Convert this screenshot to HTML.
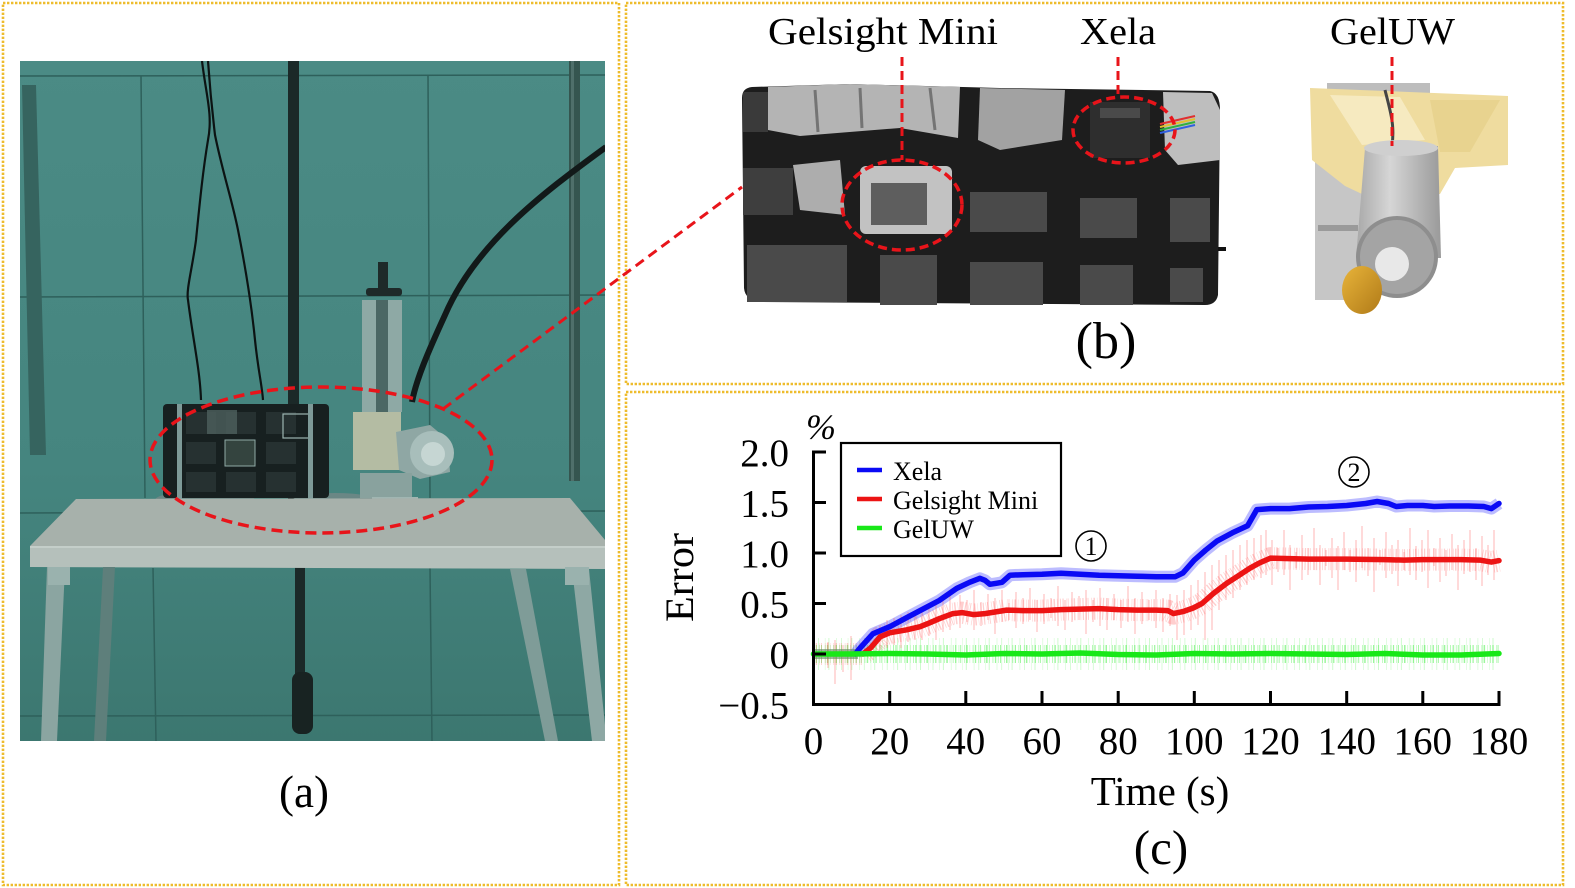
<!DOCTYPE html>
<html><head><meta charset="utf-8"><style>
html,body{margin:0;padding:0;background:#fff;}
svg{display:block;}
text{font-family:"Liberation Serif","Times New Roman",serif;fill:#000;}
</style></head><body>
<svg width="1575" height="888" viewBox="0 0 1575 888" xmlns="http://www.w3.org/2000/svg" font-family="Liberation Serif, Times New Roman, serif">
<defs>
<linearGradient id="wallg" x1="0" y1="0" x2="0" y2="1">
<stop offset="0" stop-color="#4b8b85"/><stop offset="0.6" stop-color="#45857f"/><stop offset="1" stop-color="#3c7770"/>
</linearGradient>
<linearGradient id="cylg" x1="0" y1="0" x2="1" y2="0">
<stop offset="0" stop-color="#a8a8a8"/><stop offset="0.4" stop-color="#d6d6d6"/><stop offset="1" stop-color="#9a9a9a"/>
</linearGradient>
<linearGradient id="goldg" x1="0" y1="0" x2="1" y2="1">
<stop offset="0" stop-color="#e8b43a"/><stop offset="1" stop-color="#b07a18"/>
</linearGradient>
<clipPath id="clipA"><rect x="20" y="61" width="585" height="680"/></clipPath>
</defs>

<!-- panel borders -->
<g fill="none" stroke="#eebc2c" stroke-width="2.6" stroke-dasharray="2.4 1.6">
<rect x="3" y="3" width="616" height="882"/>
<rect x="626" y="3" width="937" height="381"/>
<rect x="626" y="392" width="937" height="493"/>
</g>

<!-- ===== Photo (a) ===== -->
<g clip-path="url(#clipA)">
<rect x="20" y="61" width="585" height="680" fill="url(#wallg)"/>
<g stroke="#2e605b" stroke-width="1.5" fill="none">
<line x1="20" y1="76" x2="605" y2="75"/>
<line x1="141" y1="76" x2="145" y2="498"/>
<line x1="428" y1="75" x2="430" y2="498"/>
<line x1="20" y1="297" x2="605" y2="295"/>
<line x1="20" y1="513" x2="605" y2="511"/>
<line x1="153" y1="568" x2="156" y2="741"/>
<line x1="430" y1="568" x2="432" y2="741"/>
<line x1="20" y1="716" x2="605" y2="715"/>
</g>
<polygon points="22,85 36,85 46,455 30,455" fill="#36645f"/>
<rect x="569" y="61" width="11" height="420" fill="#35554f"/>
<rect x="571" y="61" width="3" height="420" fill="#4f6f6a"/>
<rect x="288" y="61" width="11" height="440" fill="#1b2928"/>
<rect x="295" y="565" width="10" height="130" fill="#1b2928"/>
<rect x="292" y="672" width="21" height="62" rx="8" fill="#182322"/>
<path d="M202,61 C206,95 213,115 208,140 C203,170 200,200 196,240 C192,270 186,290 188,300 C193,340 200,370 201,400" stroke="#0c1313" stroke-width="2.2" fill="none"/>
<path d="M208,61 C210,90 212,110 215,135 C222,170 232,200 238,230 C246,270 252,310 255,340 C258,370 262,385 263,400" stroke="#0c1313" stroke-width="2.2" fill="none"/>
<path d="M606,147 C540,195 475,245 445,315 C428,352 416,380 412,402" stroke="#121919" stroke-width="6" fill="none"/>
<rect x="362" y="300" width="40" height="112" fill="#8ea9a5"/>
<rect x="376" y="300" width="12" height="112" fill="#4b6764"/>
<rect x="378" y="262" width="10" height="32" fill="#1e2a29"/>
<rect x="366" y="288" width="36" height="8" rx="3" fill="#1e2a29"/>
<ellipse cx="205" cy="500" rx="50" ry="9" fill="#6a8785"/>
<ellipse cx="335" cy="502" rx="45" ry="9" fill="#6a8785"/>
<rect x="163" y="404" width="166" height="94" rx="4" fill="#172020"/>
<g fill="#263131">
<rect x="186" y="412" width="30" height="22"/><rect x="226" y="412" width="30" height="22"/><rect x="266" y="412" width="30" height="22"/>
<rect x="186" y="442" width="30" height="22"/><rect x="266" y="442" width="30" height="22"/>
<rect x="186" y="472" width="30" height="20"/><rect x="226" y="472" width="30" height="20"/><rect x="266" y="472" width="30" height="20"/>
</g>
<rect x="207" y="410" width="30" height="24" fill="#4d605e" opacity="0.8"/>
<rect x="225" y="440" width="30" height="26" fill="#34443f" stroke="#8faaa6" stroke-width="1"/>
<rect x="283" y="414" width="28" height="24" fill="none" stroke="#9cb4b0" stroke-width="1.2"/>
<rect x="177" y="404" width="5" height="100" fill="#7e9a98"/>
<rect x="308" y="404" width="5" height="100" fill="#7e9a98"/>
<rect x="353" y="412" width="48" height="58" fill="#b4bca3"/>
<polygon points="396,432 430,425 448,440 450,472 420,479 399,470" fill="#8fa7a4"/>
<circle cx="432" cy="453" r="22" fill="#a8bebb"/>
<circle cx="433" cy="454" r="12" fill="#c6d6d3"/>
<rect x="360" y="473" width="52" height="25" fill="#89a29e"/>
<rect x="372" y="497" width="46" height="26" fill="#a0b6b2"/>
<circle cx="401" cy="512" r="10" fill="#9c8a3c"/>
<polygon points="30,546 76,499 570,498 605,540 605,548" fill="#a7b1ab"/>
<polygon points="30,546 605,546 605,569 30,567" fill="#b5c0bb"/>
<line x1="30" y1="547" x2="605" y2="547" stroke="#c9d2ce" stroke-width="1.5"/>
<polygon points="47,567 65,567 57,741 41,741" fill="#8ba5a1"/>
<polygon points="103,567 115,567 106,741 94,741" fill="#5e7f7b"/>
<polygon points="510,569 526,569 558,741 545,741" fill="#7f9c98"/>
<polygon points="572,569 589,569 605,725 605,741 592,741" fill="#8ea8a4"/>
<rect x="48" y="567" width="22" height="18" fill="#9ab2ae"/>
<rect x="565" y="567" width="24" height="18" fill="#9ab2ae"/>
</g>
<ellipse cx="321" cy="460" rx="171" ry="73" fill="none" stroke="#e8141a" stroke-width="3.5" stroke-dasharray="11 6"/>
<line x1="443" y1="409" x2="742" y2="187" stroke="#e8141a" stroke-width="3" stroke-dasharray="10 6"/>
<text x="304" y="807" font-size="45" text-anchor="middle">(a)</text>

<!-- ===== Photo (b) ===== -->
<path d="M742,98 Q742,88 752,87 L850,84 L1000,88 L1210,91 Q1220,93 1220,110 L1218,295 Q1216,305 1205,305 L760,302 Q745,300 744,288 Z" fill="#1d1d1d"/>
<rect x="743" y="92" width="25" height="40" fill="#3a3a3a"/>
<polygon points="768,87 850,84 960,87 958,138 900,128 800,136 768,130" fill="#b4b4b4"/>
<g stroke="#5a5a5a" stroke-width="3" opacity="0.7">
<line x1="815" y1="90" x2="818" y2="132"/><line x1="860" y1="88" x2="862" y2="128"/><line x1="930" y1="88" x2="935" y2="130"/>
</g>
<polygon points="980,88 1065,90 1062,140 1000,150 978,140" fill="#a2a2a2"/>
<polygon points="1163,92 1212,93 1220,110 1220,160 1178,165 1165,150" fill="#bebebe"/>
<polygon points="793,165 840,160 845,215 800,210" fill="#adadad"/>
<rect x="743" y="168" width="50" height="47" fill="#3e3e3e"/>
<rect x="860" y="166" width="92" height="68" rx="6" fill="#c2c2c2"/>
<rect x="871" y="183" width="56" height="42" fill="#5e5e5e"/>
<g fill="#4a4a4a">
<rect x="970" y="192" width="77" height="40"/><rect x="1080" y="198" width="57" height="40"/><rect x="1170" y="198" width="40" height="44"/>
<rect x="747" y="245" width="100" height="57"/><rect x="880" y="255" width="57" height="50"/><rect x="970" y="262" width="73" height="43"/>
<rect x="1080" y="265" width="53" height="40"/><rect x="1170" y="268" width="33" height="34"/>
</g>
<rect x="1090" y="102" width="60" height="56" fill="#2e2e2e"/>
<rect x="1100" y="108" width="40" height="10" fill="#4a4a4a"/>
<g stroke-width="2">
<line x1="1160" y1="124" x2="1195" y2="116" stroke="#e03030"/>
<line x1="1160" y1="127" x2="1195" y2="119" stroke="#e0c030"/>
<line x1="1160" y1="130" x2="1195" y2="122" stroke="#30b040"/>
<line x1="1160" y1="133" x2="1195" y2="125" stroke="#3060e0"/>
</g>
<rect x="1218" y="247" width="8" height="4" fill="#111"/>
<!-- GelUW -->
<rect x="1327" y="83" width="103" height="14" fill="#bdbdbd"/>
<rect x="1315" y="160" width="47" height="140" fill="#c6c6c6"/>
<rect x="1318" y="225" width="40" height="6" fill="#9a9a9a"/>
<polygon points="1310,88 1508,96 1508,165 1455,168 1440,194 1362,194 1345,186 1312,160" fill="#efdc9f"/>
<polygon points="1330,95 1400,97 1425,140 1362,145" fill="#f6eac0"/>
<polygon points="1430,100 1500,100 1470,152 1440,152" fill="#e8d38f"/>
<path d="M1385,90 C1390,110 1395,125 1392,145" stroke="#444" stroke-width="3" fill="none"/>
<polygon points="1365,148 1438,146 1441,258 1356,258" fill="url(#cylg)"/>
<ellipse cx="1401" cy="148" rx="37" ry="8" fill="#cfcfcf"/>
<circle cx="1397" cy="257" r="41" fill="#8e8e8e"/>
<circle cx="1397" cy="257" r="37" fill="#a4a4a4"/>
<circle cx="1392" cy="264" r="17" fill="#e8e8e8"/>
<ellipse cx="1362" cy="290" rx="20" ry="24" fill="url(#goldg)"/>
<ellipse cx="902" cy="205" rx="60" ry="45" fill="none" stroke="#e8141a" stroke-width="3.5" stroke-dasharray="9 5"/>
<ellipse cx="1124" cy="130" rx="51" ry="33" fill="none" stroke="#e8141a" stroke-width="3.5" stroke-dasharray="9 5"/>
<g stroke="#e8141a" stroke-width="3" stroke-dasharray="9 5">
<line x1="902" y1="57" x2="902" y2="160"/>
<line x1="1118" y1="57" x2="1118" y2="97"/>
<line x1="1392" y1="57" x2="1392" y2="146"/>
</g>
<text x="768" y="44" font-size="38" textLength="230" lengthAdjust="spacingAndGlyphs">Gelsight Mini</text>
<text x="1080" y="44" font-size="38" textLength="76" lengthAdjust="spacingAndGlyphs">Xela</text>
<text x="1330" y="44" font-size="38" textLength="125" lengthAdjust="spacingAndGlyphs">GelUW</text>
<text x="1106" y="358" font-size="52" text-anchor="middle">(b)</text>

<!-- ===== Chart (c) ===== -->
<g fill="none" stroke-linejoin="round">
<path d="M813.5,654 L1499,654" stroke="#3cf03c" stroke-width="18" stroke-opacity="0.5" stroke-dasharray="0.7 1.6 1.2 2.4 0.5 1.1 0.9 3 0.6 1.4 1.5 2 0.4 2.6"/>
<path d="M813.5,654 L1499,654" stroke="#50f050" stroke-width="32" stroke-opacity="0.28" stroke-dasharray="0.6 4 0.8 6 0.5 3 1 7"/>
<path d="M813.5,654 L863,654 L870.6,647.9 L880.1,636.8 L889.7,632.8 L906.8,629.8 L920.1,626.7 L930,622.7 L939.2,618.7 L952.9,613.6 L962,612.6 L973.4,614.6 L984.9,613.6 L1006.6,610.1 L1023,610.6 L1042,610.6 L1061,609.6 L1080.1,609.1 L1099.1,608.6 L1118.2,609.6 L1137.2,610.1 L1156.2,610.1 L1167.7,610.6 L1173.4,613.6 L1182.9,611.6 L1193.2,608 L1202,603.5 L1213.4,593.4 L1226.7,583.3 L1236.2,577.2 L1249.9,568.2 L1259.1,563.1 L1270.5,558.1 L1289.5,558.6 L1308.6,559.1 L1346.7,559.1 L1384.7,559.6 L1403.8,560.1 L1422.8,559.6 L1460.9,559.6 L1479.9,560.1 L1491.4,562.1 L1499,560.6" stroke="#ff5050" stroke-width="22" stroke-opacity="0.28" stroke-dasharray="0.7 1.6 1.2 2.4 0.5 1.1 0.9 3 0.6 1.4 1.5 2 0.4 2.6"/>
<path d="M855.4,654 L859.2,649 L872.9,633.8 L889.7,626.7 L906.8,617.6 L923.9,608.6 L939.2,600.5 L956.7,588.4 L969.6,582.3 L979.9,578.3 L984.9,580.3 L989.8,584.3 L996.3,583.3 L1002,582.3 L1010,575.2 L1023,574.7 L1042,574.2 L1061,573.2 L1080.1,574.2 L1099.1,575.2 L1118.2,575.7 L1137.2,576.2 L1156.2,576.7 L1175.3,576.7 L1182.9,573 L1194.3,560.1 L1205.8,550 L1217.2,540.9 L1232.4,532.8 L1247.6,525.7 L1256.8,509.6 L1270.5,508.6 L1289.5,508.6 L1308.6,507 L1327.6,506.5 L1346.7,505.5 L1365.7,503.5 L1377.1,501.5 L1388.6,503.5 L1396.2,506.5 L1407.6,505.5 L1422.8,505.5 L1434.2,506.5 L1449.5,506 L1468.5,506 L1483.8,506.5 L1491.4,508.6 L1499,503.5" stroke="#6a6aff" stroke-width="12" stroke-opacity="0.45"/>
</g>
<!-- red vertical spikes -->
<path stroke="#ff5a5a" stroke-width="1" stroke-opacity="0.45" fill="none" d="
M835,640V684 M851,636V680 M843,645V672 M828,642V668
M880,625V650 M887,620V648 M894,618V645 M901,615V648 M908,612V642 M915,615V640 M922,608V640 M929,606V636 M936,600V640 M943,598V632 M950,596V630
M960,595V628 M967,600V622 M974,590V630 M981,602V626 M988,594V620 M995,598V634 M1002,590V622 M1009,603V620 M1016,592V628 M1023,598V624 M1030,588V620 M1037,600V632 M1044,594V624 M1051,598V618 M1058,586V626 M1065,600V630 M1072,592V622 M1079,596V620 M1086,590V634 M1093,600V622 M1100,588V626 M1107,598V630 M1114,594V620 M1121,600V628 M1128,586V622 M1135,598V634 M1142,592V624 M1149,600V620 M1156,590V628 M1163,598V632 M1170,594V626
M1177,595V640 M1184,590V635 M1191,585V630 M1198,580V625 M1205,572V640 M1212,565V630 M1219,560V610 M1226,555V600 M1233,550V598 M1240,545V590 M1247,540V585 M1254,538V580 M1261,535V578 M1266,530V575
M1272,540V585 M1278,548V572 M1284,530V575 M1290,545V590 M1296,552V568 M1302,535V580 M1308,548V575 M1314,528V570 M1320,545V585 M1326,550V566 M1332,538V578 M1338,546V590 M1344,532V570 M1350,550V572 M1356,540V582 M1362,526V568 M1368,548V576 M1374,538V592 M1380,550V565 M1386,532V578 M1392,545V574 M1398,540V586 M1404,552V570 M1410,528V575 M1416,546V580 M1422,540V572 M1428,530V588 M1434,548V566 M1440,538V582 M1446,550V576 M1452,534V570 M1458,545V590 M1464,540V574 M1470,530V572 M1476,548V580 M1482,536V586 M1488,545V575 M1494,530V580"/>
<line x1="813.5" y1="654" x2="858" y2="654" stroke="#5f8a5f" stroke-width="10" stroke-opacity="0.6"/>
<g fill="none" stroke-linejoin="round" stroke-linecap="round" stroke-width="5.5">
<path d="M855.4,654 L859.2,649 L872.9,633.8 L889.7,626.7 L906.8,617.6 L923.9,608.6 L939.2,600.5 L956.7,588.4 L969.6,582.3 L979.9,578.3 L984.9,580.3 L989.8,584.3 L996.3,583.3 L1002,582.3 L1010,575.2 L1023,574.7 L1042,574.2 L1061,573.2 L1080.1,574.2 L1099.1,575.2 L1118.2,575.7 L1137.2,576.2 L1156.2,576.7 L1175.3,576.7 L1182.9,573 L1194.3,560.1 L1205.8,550 L1217.2,540.9 L1232.4,532.8 L1247.6,525.7 L1256.8,509.6 L1270.5,508.6 L1289.5,508.6 L1308.6,507 L1327.6,506.5 L1346.7,505.5 L1365.7,503.5 L1377.1,501.5 L1388.6,503.5 L1396.2,506.5 L1407.6,505.5 L1422.8,505.5 L1434.2,506.5 L1449.5,506 L1468.5,506 L1483.8,506.5 L1491.4,508.6 L1499,503.5" stroke="#0a0af5"/>
<path d="M863,654 L870.6,647.9 L880.1,636.8 L889.7,632.8 L906.8,629.8 L920.1,626.7 L930,622.7 L939.2,618.7 L952.9,613.6 L962,612.6 L973.4,614.6 L984.9,613.6 L1006.6,610.1 L1023,610.6 L1042,610.6 L1061,609.6 L1080.1,609.1 L1099.1,608.6 L1118.2,609.6 L1137.2,610.1 L1156.2,610.1 L1167.7,610.6 L1173.4,613.6 L1182.9,611.6 L1193.2,608 L1202,603.5 L1213.4,593.4 L1226.7,583.3 L1236.2,577.2 L1249.9,568.2 L1259.1,563.1 L1270.5,558.1 L1289.5,558.6 L1308.6,559.1 L1346.7,559.1 L1384.7,559.6 L1403.8,560.1 L1422.8,559.6 L1460.9,559.6 L1479.9,560.1 L1491.4,562.1 L1499,560.6" stroke="#ec1414"/>
<path d="M813.5,654 L851.6,654 L889.7,653.5 L927.8,654 L965.8,655 L1003.9,653.5 L1042,654 L1080.1,653 L1118.2,654.5 L1156.2,655 L1194.3,653.5 L1232.4,654 L1270.5,653.5 L1308.6,654 L1346.7,654.5 L1384.7,653.5 L1422.8,655 L1460.9,655 L1499,653.5" stroke="#18e818"/>
</g>
<g stroke="#000" stroke-width="3" fill="none">
<line x1="813.5" y1="450.5" x2="813.5" y2="706"/>
<line x1="812" y1="704.5" x2="1500.5" y2="704.5"/>
<line x1="813" y1="452" x2="826" y2="452"/>
<line x1="813" y1="502.5" x2="826" y2="502.5"/>
<line x1="813" y1="553" x2="826" y2="553"/>
<line x1="813" y1="603.5" x2="826" y2="603.5"/>
<line x1="813" y1="654" x2="826" y2="654"/>
<line x1="889.7" y1="704" x2="889.7" y2="691"/>
<line x1="965.8" y1="704" x2="965.8" y2="691"/>
<line x1="1042" y1="704" x2="1042" y2="691"/>
<line x1="1118.2" y1="704" x2="1118.2" y2="691"/>
<line x1="1194.3" y1="704" x2="1194.3" y2="691"/>
<line x1="1270.5" y1="704" x2="1270.5" y2="691"/>
<line x1="1346.7" y1="704" x2="1346.7" y2="691"/>
<line x1="1422.8" y1="704" x2="1422.8" y2="691"/>
<line x1="1499" y1="704" x2="1499" y2="691"/>
</g>
<g font-size="39" text-anchor="end">
<text x="789" y="466">2.0</text>
<text x="789" y="516.5">1.5</text>
<text x="789" y="567">1.0</text>
<text x="789" y="617.5">0.5</text>
<text x="789" y="668">0</text>
<text x="789" y="718.5">−0.5</text>
</g>
<g font-size="39" text-anchor="middle">
<text x="813.5" y="754">0</text>
<text x="889.7" y="754">20</text>
<text x="965.8" y="754">40</text>
<text x="1042" y="754">60</text>
<text x="1118.2" y="754">80</text>
<text x="1194.3" y="754">100</text>
<text x="1270.5" y="754">120</text>
<text x="1346.7" y="754">140</text>
<text x="1422.8" y="754">160</text>
<text x="1499" y="754">180</text>
</g>
<text x="806" y="439" font-size="36" font-style="italic">%</text>
<text transform="translate(693,577.5) rotate(-90)" font-size="40" text-anchor="middle" textLength="89" lengthAdjust="spacingAndGlyphs">Error</text>
<text x="1160" y="805" font-size="41" text-anchor="middle">Time (s)</text>
<text x="1161" y="864" font-size="49" text-anchor="middle">(c)</text>
<rect x="841" y="443" width="220" height="113" fill="#fff" stroke="#000" stroke-width="2.2"/>
<g stroke-width="4.5">
<line x1="857" y1="470" x2="882" y2="470" stroke="#0a0af5"/>
<line x1="857" y1="499" x2="882" y2="499" stroke="#ec1414"/>
<line x1="857" y1="528" x2="882" y2="528" stroke="#18e818"/>
</g>
<g font-size="26">
<text x="893" y="480">Xela</text>
<text x="893" y="509">Gelsight Mini</text>
<text x="893" y="538">GelUW</text>
</g>
<circle cx="1091" cy="546" r="15" fill="none" stroke="#000" stroke-width="1.6"/>
<text x="1091" y="555" font-size="26" text-anchor="middle">1</text>
<circle cx="1354" cy="472" r="15" fill="none" stroke="#000" stroke-width="1.6"/>
<text x="1354" y="481" font-size="26" text-anchor="middle">2</text>
</svg>
</body></html>
